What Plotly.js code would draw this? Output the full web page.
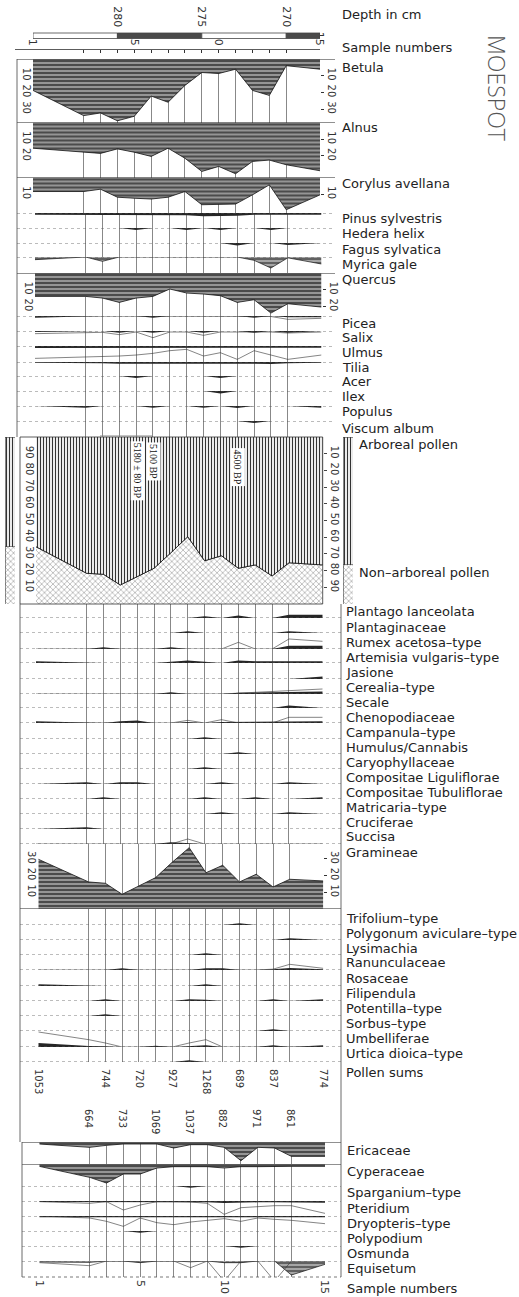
<!DOCTYPE html>
<html><head><meta charset="utf-8">
<script src="https://cdn.plot.ly/plotly-3.0.1.min.js"></script>
<style>html,body{margin:0;padding:0;background:#fff}</style>
</head><body><div id="chart" style="width:519px;height:1297px"></div>
<script>
// ---------------- DATA ----------------
const sampleNumbers = [1,2,3,4,5,6,7,8,9,10,11,12,13,14,15];
const depthsCm = [285,282,281,280,279,278,277,276,275,274,273,272,271,270,268];
const depthTicks = [280,275,270];
const labelledSamples = [1,5,10,15];
const percentTicks = [10,20,30,40,50,60,70,80,90];
const pollenSums = [1053,664,744,733,720,1069,927,1037,1268,882,689,971,837,861,774];
const datedSamples = [5,6,11];
const dateLabels = ['5180 ± 80 BP','5100 BP','4500 BP'];
const sedimentEdges = [285,280,275,270,268];
const sedimentShade = ['#ffffff','#4a4a4a','#ffffff','#4a4a4a'];

// trees & shrubs (%)
const betula   = [18.8,33.9,32.3,37.0,34.3,22.2,25.9,15.8,8.1,8.7,6.1,18.8,21.8,4.0,6.1];
const alnus    = [15.4,17.4,18.5,15.8,17.8,20.3,15.4,21.4,29.3,26.3,30.7,23.3,22.5,25.3,28.9];
const corylus  = [8.4,8.4,7.0,11.8,12.4,12.9,11.8,8.4,16.3,15.9,15.9,10.4,4.4,19.3,10.4];
const pinus    = [1.0,1.0,1.0,1.0,1.0,1.0,1.0,1.3,2.0,2.0,1.6,1.0,1.0,1.0,1.0];
const hedera   = [0,0,0,0,1.2,0,0,1.2,0,1.2,0,0,1.2,0,0];
const fagus    = [0,0,0,0,0,0,0,0,0,0,1.5,0,0,1.2,0];
const myrica   = [1.6,0,2.6,0,0,0,0,0,0,0,0,2.0,6.6,0.5,4.2];
const quercus  = [14.0,14.0,15.0,17.6,15.0,14.0,9.6,12.0,12.6,13.6,17.6,16.0,24.0,18.4,20.4];
const picea    = [1.0,0,0,0,0,1.0,0,0,0,0,0,1.0,0,0.8,0.8];
const piceaEx  = [0,0,0,0,0,0,0,0,0,0,0,0,0.3,2.0,1.4];
const salix    = [0.6,0,0,1.0,0,1.0,0,0,1.0,0,0,1.0,0,1.0,0];
const salixEx  = [1.6,1.0,0.8,2.2,0.6,4.0,0.6,0.6,2.6,0.6,0.6,0.6,0.6,1.2,0.6];
const ulmus    = [1.2,1.2,1.0,1.0,1.0,1.0,1.0,1.0,1.0,1.3,1.0,1.0,0.9,1.0,1.0];
const ulmusEx  = [7.4,6.8,6.4,6.0,5.4,4.4,2.8,2.0,6.0,4.0,8.0,2.8,5.4,8.0,5.4];
const tilia    = [0.5,0.5,0.7,1.0,1.0,1.0,1.0,1.0,0.9,0.7,0.9,1.0,1.2,0.7,0.5];
const acer     = [0,0,0,0,1.2,0,0,0,0,1.2,0,0,0,0,0];
const ilex     = [0,0,0,0,0,0,0,0,0,1.5,0,0,0,0,0];
const populus  = [0,1.0,0,0,0,1.0,0,0,1.0,0,1.2,0,0,0,1.0];
const viscum   = [0,0,0,0,0,0,0,0,0,0,0,1.2,0,0,0];

// AP / NAP (%)
const arborealPollen    = [65.7,81.6,82.2,88.6,83.6,78.6,69.3,59.7,74.1,71.1,78.6,76.6,83.2,75.3,76.6];
const nonArborealPollen = [34.3,18.4,17.8,11.4,16.4,21.4,30.7,40.3,25.9,28.9,21.4,23.4,16.8,24.7,23.4];

// herbs (%)
const plantagoL   = [0,0,0,0,0,0,0,0,1.0,0,1.5,0,0,2.0,2.0];
const plantaginac = [0,0,0,0,0,0,0,1.0,0,0,0,0,0,1.0,0];
const rumex       = [0,0,1.0,0,0,0,1.0,0,0,0,0.5,0,0,2.0,2.0];
const rumexEx     = [0,0,0,0,0,0,0,0,0,0,4.0,0,0,6.0,4.6];
const artemisia   = [1.0,0,0,0,0,0,0.8,1.5,0.8,0,1.5,1.0,1.0,1.0,1.0];
const jasione     = [0,0,0,0,0,0,0,0,0,0,0,0,0,0,1.5];
const cerealia    = [0,0,0,0,0,0,1.0,0,0,0,0.8,1.0,1.0,1.0,1.5];
const cerealiaEx  = [0,0,0,0,0,0,0,0,0,0,0.5,1.0,1.5,2.0,3.0];
const secale      = [0,0,0,0,0,0,0,0,0,0,0,0,0,1.5,0];
const cheno       = [1.0,0,0,1.0,1.5,0,0,0.6,0,0.6,0.6,0.8,0.8,1.0,1.0];
const chenoEx     = [0,0,0,0,0,0,0,1.6,0,2.0,0,0,0,3.4,3.4];
const campanula   = [0,0,0,0,0,0,0,0,1.0,0,0,0,0,0,0];
const humulus     = [0,0,0,0,0,0,0,0,0,0,1.0,0,0,0,0];
const caryo       = [0,0,0,0,0,0,0,0,1.0,0,0,0,0,0,0];
const compLig     = [0,1.0,0,1.0,1.0,0,0,0,0,1.0,0,0,0,1.0,0];
const compTub     = [0,0,1.0,0,0,0,0,0,1.0,0,0,1.0,0,0,1.0];
const matricaria  = [0,0,0,0,0,0,0,0,0,1.0,0,0,0,1.0,0];
const cruciferae  = [0,1.0,0,0,0,0,0,0,0,0,0,0,0,0,0];
const succisa     = [0,0,0,0,0,0,1.0,0.5,0,0,0,0,0,0,0];
const succisaEx   = [0,0,0,0,0,0,0,3.0,0,0,0,0,0,0,0];
const gramineae   = [29.8,16.2,15.4,8.8,13.8,18.8,28.1,36.7,21.7,26.2,16.2,20.8,13.2,17.8,16.8];
const trifolium   = [0,0,0,0,0,0,0,0,0,0,1.0,0,0,0,0];
const polygonum   = [0,0,0,0,0,0,0,0,0,0,0,0,0,1.0,0];
const lysimachia  = [0,0,0,0,0,0,0,0,1.0,0,0,0,0,0,0];
const ranunc      = [0,0,0,1.0,0,0,0,0,1.0,1.0,0,0,0.5,1.2,0.5];
const ranuncEx    = [0,0,0,0,0,0,0,0,0,0,0,0,0.5,3.4,1.0];
const rosaceae    = [1.0,0,0,0,0,0,0,0,1.0,0,0,0,0,0,0];
const filipendula = [0,0,1.0,0,0,0,0,1.0,0.8,0,0,0,1.0,0,1.0];
const potentilla  = [0,0,1.0,0,0,0,0,0,0,0,0,0,0,0,0];
const sorbus      = [0,0,0,0,0,0,0,0,0,0,0,0,1.0,0,0];
const umbellif    = [2.4,0.6,0.5,0,0,0.8,0,0.5,1.0,0,0,0,1.0,0,1.0];
const umbellifEx  = [9.0,4.4,2.4,0,0,0,0,2.4,4.4,0,0,0,0,0,0];
const urtica      = [0,0,0,0,0,0,0,1.0,0,0,0,0,0,0,0];

// mires & spores (%)
const ericaceae   = [1.2,3.2,2.0,1.2,1.2,1.2,3.6,1.6,1.6,3.2,11.2,3.2,3.6,8.6,8.6];
const cyperaceae  = [1.4,8.0,11.4,6.0,6.0,2.4,1.6,1.6,1.6,2.4,1.6,1.6,1.4,1.4,1.4];
const sparganium  = [0,0,0,0,0,0,0,1.0,0,0,0,0,0,0,0];
const pteridium   = [0.6,0.6,0.6,0.8,0.8,0.6,0.6,0.6,0.8,1.2,0.8,0.8,0.8,0.8,1.0];
const pteridiumEx = [0.4,1.4,0.4,5.4,2.4,0.4,0.4,0.6,1.4,8.0,4.0,3.4,2.8,2.8,7.4];
const dryopteris  = [0.8,0.8,0.8,1.0,1.0,0.8,0.8,0.8,0.8,0.8,0.8,0.8,0.8,0.8,0.8];
const dryopterisEx= [0,1.2,3.2,6.2,1.2,4.0,5.2,3.6,2.6,1.6,3.2,1.2,2.0,2.6,4.6];
const polypodium  = [0,0,0,0,1.0,0,0,0,0,0,0,0,0,0,0];
const osmunda     = [0,0,0,0,0,0,0,0,0,0,1.0,0,0,0,0];
const equisetum   = [0.6,0.8,0,0,1.0,0,0,0.5,0,1.0,1.0,0,0,8.4,2.0];
const equisetumEx = [1.0,2.8,0,0,0,0,0,4.0,0,12,0,0,12,0,0];

// ---------------- LAYOUT HELPERS ----------------
const W = 519, H = 1297, K = 1.67;
const px = v => v / W, py = v => 1 - v / H;
const secs = {
  A: {x0: 33,   x1: 320,   fl: 17, fr: 335, lx: 340, ax: 1},
  B: {x0: 35,   x1: 321.5, fl: 17, fr: 335, lx: 340, ax: 2},
  C: {x0: 36,   x1: 322.7, fl: 20, fr: 341, lx: 344, ax: 3},
  D: {x0: 38.3, x1: 323.3, fl: 20, fr: 341, lx: 344, ax: 4},
  E: {x0: 39.3, x1: 325,   fl: 22, fr: 341, lx: 345, ax: 5}
};
const xName = n => n === 1 ? 'xaxis' : 'xaxis' + n, xId = n => n === 1 ? 'x' : 'x' + n;
const yName = n => n === 1 ? 'yaxis' : 'yaxis' + n, yId = n => n === 1 ? 'y' : 'y' + n;
const depthRange = [depthsCm[0], depthsCm[depthsCm.length - 1]];
const depthOf = s => depthsCm[sampleNumbers.indexOf(s)];

const layout = {
  width: W, height: H, margin: {l: 0, r: 0, t: 0, b: 0},
  paper_bgcolor: '#fff', plot_bgcolor: 'rgba(0,0,0,0)', showlegend: false,
  font: {family: 'DejaVu Sans', color: '#222'}, shapes: [], annotations: [],
  barmode: 'stack', bargap: 0
};
const traces = [];

Object.values(secs).forEach(s => {
  layout[xName(s.ax)] = {domain: [px(s.x0), px(s.x1)], range: depthRange, autorange: false,
    anchor: 'free', position: 0, showgrid: true, gridcolor: '#6a6a6a', gridwidth: 0.8,
    tickmode: 'array', tickvals: depthsCm, showticklabels: false, ticks: '', zeroline: false, showline: false};
});

let yCount = 0;
function newY(cfg) { yCount++; layout[yName(yCount)] = cfg; return yId(yCount); }
const tickFont = {size: 10, color: '#333', family: 'DejaVu Sans'};

const styles = {
  big: {line: {color: '#111', width: 0.8}, fillcolor: '#999',
    fillpattern: {shape: '-', fgcolor: '#2b2b2b', bgcolor: '#959595', size: 4, solidity: 0.35}},
  gray: {line: {color: '#111', width: 0.7}, fillcolor: '#999',
    fillpattern: {shape: '-', fgcolor: '#333', bgcolor: '#a5a5a5', size: 4, solidity: 0.3}},
  small: {line: {color: '#111', width: 0}, fillcolor: '#262626'}
};

// ---------------- ROWS ----------------
const rows = [
  {label: 'Betula', data: betula, top: 59, bot: 122.5, dir: 'down', sec: 'A', ticks: [10,20,30], style: 'big', ly: 68},
  {label: 'Alnus', data: alnus, top: 122.5, bot: 177.5, dir: 'down', sec: 'A', ticks: [10,20], style: 'big', ly: 128},
  {label: 'Corylus avellana', data: corylus, top: 177.5, bot: 213, dir: 'down', sec: 'A', ticks: [10], style: 'big', ly: 183},
  {label: 'Pinus sylvestris', data: pinus, top: 213, bot: 228, dir: 'down', sec: 'B', ly: 219},
  {label: 'Hedera helix', data: hedera, top: 228, bot: 243, dir: 'down', sec: 'B', ly: 234},
  {label: 'Fagus sylvatica', data: fagus, top: 243, bot: 257, dir: 'down', sec: 'B', ly: 249},
  {label: 'Myrica gale', data: myrica, top: 257, bot: 273, dir: 'down', sec: 'B', style: 'gray', ly: 264},
  {label: 'Quercus', data: quercus, top: 273, bot: 316, dir: 'down', sec: 'B', ticks: [10,20], style: 'big', ly: 279},
  {label: 'Picea', data: picea, ex: piceaEx, top: 316, bot: 331, dir: 'down', sec: 'B', ly: 323},
  {label: 'Salix', data: salix, ex: salixEx, top: 331, bot: 346, dir: 'down', sec: 'B', ly: 337},
  {label: 'Ulmus', data: ulmus, ex: ulmusEx, top: 346, bot: 362, dir: 'down', sec: 'B', ly: 352},
  {label: 'Tilia', data: tilia, top: 362, bot: 376, dir: 'down', sec: 'B', ly: 367},
  {label: 'Acer', data: acer, top: 376, bot: 391, dir: 'down', sec: 'B', ly: 382},
  {label: 'Ilex', data: ilex, top: 391, bot: 406, dir: 'down', sec: 'B', ly: 397},
  {label: 'Populus', data: populus, top: 406, bot: 421, dir: 'down', sec: 'B', ly: 412},
  {label: 'Viscum album', data: viscum, top: 421, bot: 437, dir: 'down', sec: 'B', ly: 428},
  {label: 'Plantago lanceolata', data: plantagoL, top: 604, bot: 618, dir: 'up', sec: 'C', ly: 612},
  {label: 'Plantaginaceae', data: plantaginac, top: 618, bot: 633, dir: 'up', sec: 'C', ly: 627},
  {label: 'Rumex acetosa\u2013type', data: rumex, ex: rumexEx, top: 633, bot: 649, dir: 'up', sec: 'C', ly: 642},
  {label: 'Artemisia vulgaris\u2013type', data: artemisia, top: 649, bot: 663, dir: 'up', sec: 'C', ly: 657},
  {label: 'Jasione', data: jasione, top: 663, bot: 679, dir: 'up', sec: 'C', ly: 672},
  {label: 'Cerealia\u2013type', data: cerealia, ex: cerealiaEx, top: 679, bot: 694, dir: 'up', sec: 'C', ly: 687},
  {label: 'Secale', data: secale, top: 694, bot: 708, dir: 'up', sec: 'C', ly: 702},
  {label: 'Chenopodiaceae', data: cheno, ex: chenoEx, top: 708, bot: 723, dir: 'up', sec: 'C', ly: 717},
  {label: 'Campanula\u2013type', data: campanula, top: 723, bot: 739, dir: 'up', sec: 'C', ly: 732},
  {label: 'Humulus/Cannabis', data: humulus, top: 739, bot: 754, dir: 'up', sec: 'C', ly: 747},
  {label: 'Caryophyllaceae', data: caryo, top: 754, bot: 769, dir: 'up', sec: 'C', ly: 762},
  {label: 'Compositae Liguliflorae', data: compLig, top: 769, bot: 784, dir: 'up', sec: 'C', ly: 777},
  {label: 'Compositae Tubuliflorae', data: compTub, top: 784, bot: 799, dir: 'up', sec: 'C', ly: 792},
  {label: 'Matricaria\u2013type', data: matricaria, top: 799, bot: 814, dir: 'up', sec: 'C', ly: 807},
  {label: 'Cruciferae', data: cruciferae, top: 814, bot: 829, dir: 'up', sec: 'C', ly: 822},
  {label: 'Succisa', data: succisa, ex: succisaEx, top: 829, bot: 844, dir: 'up', sec: 'C', ly: 837},
  {label: 'Gramineae', data: gramineae, top: 844, bot: 909, dir: 'up', sec: 'D', ticks: [10,20,30], style: 'big', ly: 852},
  {label: 'Trifolium\u2013type', data: trifolium, top: 909, bot: 925, dir: 'up', sec: 'D', ly: 918},
  {label: 'Polygonum aviculare\u2013type', data: polygonum, top: 925, bot: 940, dir: 'up', sec: 'D', ly: 933},
  {label: 'Lysimachia', data: lysimachia, top: 940, bot: 955, dir: 'up', sec: 'D', ly: 948},
  {label: 'Ranunculaceae', data: ranunc, ex: ranuncEx, top: 955, bot: 970, dir: 'up', sec: 'D', ly: 963},
  {label: 'Rosaceae', data: rosaceae, top: 970, bot: 986, dir: 'up', sec: 'D', ly: 978},
  {label: 'Filipendula', data: filipendula, top: 986, bot: 1001, dir: 'up', sec: 'D', ly: 993},
  {label: 'Potentilla\u2013type', data: potentilla, top: 1001, bot: 1016, dir: 'up', sec: 'D', ly: 1008},
  {label: 'Sorbus\u2013type', data: sorbus, top: 1016, bot: 1031, dir: 'up', sec: 'D', ly: 1023},
  {label: 'Umbelliferae', data: umbellif, ex: umbellifEx, top: 1031, bot: 1047, dir: 'up', sec: 'D', ly: 1038},
  {label: 'Urtica dioica\u2013type', data: urtica, top: 1047, bot: 1062, dir: 'up', sec: 'D', ly: 1053},
  {label: 'Ericaceae', data: ericaceae, top: 1142, bot: 1164, dir: 'down', sec: 'E', style: 'big', ly: 1150},
  {label: 'Cyperaceae', data: cyperaceae, top: 1164, bot: 1186, dir: 'down', sec: 'E', style: 'big', ly: 1171},
  {label: 'Sparganium\u2013type', data: sparganium, top: 1186, bot: 1201, dir: 'down', sec: 'E', ly: 1192},
  {label: 'Pteridium', data: pteridium, ex: pteridiumEx, top: 1201, bot: 1216, dir: 'down', sec: 'E', ly: 1208},
  {label: 'Dryopteris\u2013type', data: dryopteris, ex: dryopterisEx, top: 1216, bot: 1231, dir: 'down', sec: 'E', ly: 1223},
  {label: 'Polypodium', data: polypodium, top: 1231, bot: 1246, dir: 'down', sec: 'E', ly: 1238},
  {label: 'Osmunda', data: osmunda, top: 1246, bot: 1261, dir: 'down', sec: 'E', ly: 1253},
  {label: 'Equisetum', data: equisetum, ex: equisetumEx, top: 1261, bot: 1277, dir: 'down', sec: 'E', style: 'gray', ly: 1268}
];

rows.forEach(r => {
  const s = secs[r.sec], xid = xId(s.ax);
  const vmax = (r.bot - r.top) / K;
  const rng = r.dir === 'down' ? [vmax, 0] : [0, vmax];
  const yid = newY({domain: [py(r.bot), py(r.top)], range: rng, autorange: false, anchor: 'free',
    position: px(s.x0), side: 'left', showgrid: false, zeroline: false, showline: false, ticks: '',
    showticklabels: !!r.ticks, tickmode: 'array', tickvals: r.ticks || [], tickangle: 90, tickfont: tickFont});
  const st = styles[r.style || 'small'];
  traces.push(Object.assign({x: depthsCm, y: r.data, xaxis: xid, yaxis: yid, mode: 'lines', fill: 'tozeroy', hoverinfo: 'skip'}, st));
  if (r.ex) traces.push({x: depthsCm, y: r.ex, xaxis: xid, yaxis: yid, mode: 'lines', line: {color: '#333', width: 0.6}, hoverinfo: 'skip'});
  if (r.ticks) {
    const yr = newY({overlaying: yid, range: rng, autorange: false, anchor: 'free', position: px(s.x1), side: 'right',
      ticks: 'outside', ticklen: 3, tickcolor: '#333', tickmode: 'array', tickvals: r.ticks, tickangle: 90,
      tickfont: tickFont, showgrid: false, zeroline: false, showline: false});
    traces.push({x: depthsCm, y: r.data, xaxis: xid, yaxis: yr, mode: 'lines', line: {width: 0}, opacity: 0, hoverinfo: 'skip'});
  }
  const isBig = r.style === 'big';
  layout.shapes.push({type: 'line', xref: 'paper', yref: yid, x0: px(s.fl), x1: px(s.fr), y0: 0, y1: 0,
    line: {color: isBig ? '#222' : '#555', width: isBig ? 1 : 0.8, dash: isBig ? 'solid' : 'dot'}});
  layout.annotations.push({text: r.label, xref: 'paper', yref: 'paper', x: px(s.lx), y: py(r.ly),
    xanchor: 'left', yanchor: 'middle', showarrow: false, font: {size: 13, color: '#222'}});
});

// ---------------- AP / NAP panel ----------------
const apTop = 437, apBot = 604, sC = secs.C;
const yNap = newY({domain: [py(apBot), py(apTop)], range: [0, 100], autorange: false, anchor: 'free',
  position: px(sC.x0), side: 'left', tickmode: 'array', tickvals: percentTicks, tickangle: 90, ticks: '',
  tickfont: tickFont, showgrid: false, zeroline: false, showline: false});
const yAp = newY({overlaying: yNap, range: [100, 0], autorange: false, anchor: 'free', position: px(sC.x1),
  side: 'right', tickmode: 'array', tickvals: percentTicks, tickangle: 90, ticks: 'outside', ticklen: 3,
  tickfont: tickFont, showgrid: false, zeroline: false, showline: false});
const napPattern = {shape: 'x', fgcolor: '#7a7a7a', bgcolor: '#fff', size: 4, solidity: 0.22};
const apPattern = {shape: '|', fgcolor: '#333', bgcolor: '#fff', size: 3, solidity: 0.4};
traces.push({x: depthsCm, y: nonArborealPollen, xaxis: xId(sC.ax), yaxis: yNap, mode: 'lines', fill: 'tozeroy',
  fillcolor: '#fff', fillpattern: napPattern, line: {color: '#111', width: 0.8}, hoverinfo: 'skip'});
traces.push({x: depthsCm, y: arborealPollen, xaxis: xId(sC.ax), yaxis: yAp, mode: 'lines', fill: 'tozeroy',
  fillcolor: '#fff', fillpattern: apPattern, line: {color: '#111', width: 0.8}, hoverinfo: 'skip'});
layout.shapes.push({type: 'rect', xref: 'paper', yref: 'paper', x0: px(20), x1: px(sC.x1), y0: py(apBot), y1: py(apTop),
  line: {color: '#333', width: 0.8}, fillcolor: 'rgba(0,0,0,0)'});

// legend swatches (first and last sample) at both sides
[[11, 5, 15, 0], [12, 343, 353, depthsCm.length - 1]].forEach(([n, a, b, idx]) => {
  layout[xName(n)] = {domain: [px(a), px(b)], anchor: 'free', position: 0, type: 'category',
    showgrid: false, showticklabels: false, ticks: '', zeroline: false, showline: false};
  traces.push({type: 'bar', x: ['s'], y: [nonArborealPollen[idx]], xaxis: xId(n), yaxis: yNap,
    marker: {color: '#fff', pattern: napPattern, line: {color: '#444', width: 0.6}}, hoverinfo: 'skip'});
  traces.push({type: 'bar', x: ['s'], y: [arborealPollen[idx]], xaxis: xId(n), yaxis: yNap,
    marker: {color: '#fff', pattern: apPattern, line: {color: '#444', width: 0.6}}, hoverinfo: 'skip'});
});
layout.annotations.push({text: 'Arboreal pollen', xref: 'paper', yref: 'paper', x: px(357), y: py(444),
  xanchor: 'left', yanchor: 'middle', showarrow: false, font: {size: 13}});
layout.annotations.push({text: 'Non\u2013arboreal pollen', xref: 'paper', yref: 'paper', x: px(357), y: py(573),
  xanchor: 'left', yanchor: 'middle', showarrow: false, font: {size: 13}});
const dateY = [471, 461, 467];
dateLabels.forEach((t, i) => {
  layout.annotations.push({text: t, xref: xId(sC.ax), yref: 'paper', x: depthOf(datedSamples[i]), y: py(dateY[i]),
    xanchor: 'center', yanchor: 'middle', textangle: 90, showarrow: false, bgcolor: '#fff', borderpad: 1,
    font: {family: 'Liberation Serif', size: 10, color: '#111'}});
});

// ---------------- header / footer axes ----------------
const sA = secs.A, sE = secs.E, sD = secs.D;
const anchorShape = ax => layout.shapes.push({type: 'line', xref: ax, yref: 'paper', x0: depthRange[0], x1: depthRange[0],
  y0: 0, y1: 0, line: {width: 0, color: 'rgba(0,0,0,0)'}});
layout[xName(6)] = {domain: [px(sA.x0), px(sA.x1)], range: depthRange, autorange: false, anchor: 'free',
  position: py(29), side: 'top', tickmode: 'array', tickvals: depthTicks, ticktext: depthTicks.map(String),
  tickangle: 90, ticks: '', showgrid: false, zeroline: false, showline: false, tickfont: {size: 11, color: '#333'}};
sedimentShade.forEach((c, i) => {
  layout.shapes.push({type: 'rect', xref: 'x6', yref: 'paper', x0: sedimentEdges[i], x1: sedimentEdges[i + 1],
    y0: py(38.5), y1: py(33), fillcolor: c, line: {color: '#444', width: 0.8}});
});
layout[xName(7)] = {domain: [px(sA.x0), px(sA.x1)], range: depthRange, autorange: false, anchor: 'free',
  position: py(49.5), side: 'top', tickmode: 'array', tickvals: depthsCm,
  ticktext: sampleNumbers.map(s => labelledSamples.includes(s) ? String(s) : ''),
  tickangle: 90, ticks: 'inside', ticklen: 3, tickcolor: '#333', showline: true, linecolor: '#333', linewidth: 0.8,
  showgrid: false, zeroline: false, tickfont: {size: 11, color: '#333'}};
anchorShape('x7');
layout.shapes.push({type: 'line', xref: 'paper', yref: 'paper', x0: px(15), x1: px(sA.x0), y0: py(49.5), y1: py(49.5),
  line: {color: '#333', width: 0.8}});

// pollen sums (staggered: odd / even samples)
[[8, 0, 1068], [9, 1, 1108]].forEach(([n, par, ypos]) => {
  const idx = depthsCm.map((d, i) => i).filter(i => i % 2 === par);
  layout[xName(n)] = {domain: [px(sD.x0), px(sD.x1)], range: depthRange, autorange: false, anchor: 'free',
    position: py(ypos), side: 'bottom', tickmode: 'array', tickvals: idx.map(i => depthsCm[i]),
    ticktext: idx.map(i => String(pollenSums[i])), tickangle: 90, ticks: '', showgrid: false,
    zeroline: false, showline: false, tickfont: {size: 10, color: '#333'}};
  anchorShape(xId(n));
});
// bottom sample numbers
layout[xName(10)] = {domain: [px(sE.x0), px(sE.x1)], range: depthRange, autorange: false, anchor: 'free',
  position: py(1279), side: 'bottom', tickmode: 'array', tickvals: labelledSamples.map(depthOf),
  ticktext: labelledSamples.map(String), tickangle: 90, ticks: '', showgrid: false, zeroline: false,
  showline: false, tickfont: {size: 11, color: '#333'}};
anchorShape('x10');

// ---------------- frames ----------------
const vline = (x, y0, y1) => layout.shapes.push({type: 'line', xref: 'paper', yref: 'paper',
  x0: px(x), x1: px(x), y0: py(y0), y1: py(y1), line: {color: '#444', width: 0.8}});
vline(17, 59, 437);
vline(20, 604, 1142);
vline(341, 604, 1277);
vline(22, 1142, 1277);
layout.shapes.push({type: 'line', xref: 'paper', yref: 'paper', x0: px(22), x1: px(341), y0: py(1277), y1: py(1277),
  line: {color: '#555', width: 0.8, dash: 'dot'}});
layout.shapes.push({type: 'line', xref: 'paper', yref: 'paper', x0: px(100), x1: px(152), y0: py(436), y1: py(436),
  line: {color: '#888', width: 1}});

// ---------------- texts ----------------
[['Depth in cm', 340, 15], ['Sample numbers', 340, 47], ['Pollen sums', 344, 1072], ['Sample numbers', 345, 1288]]
  .forEach(([t, x, y]) => layout.annotations.push({text: t, xref: 'paper', yref: 'paper', x: px(x), y: py(y),
    xanchor: 'left', yanchor: 'middle', showarrow: false, font: {size: 13, color: '#222'}}));
layout.annotations.push({text: 'MOESPOT', xref: 'paper', yref: 'paper', x: px(497), y: py(88), textangle: 90,
  xanchor: 'center', yanchor: 'middle', showarrow: false, font: {size: 23, color: '#555', family: 'Open Sans', weight: 300}});

Plotly.newPlot('chart', traces, layout, {staticPlot: true, displayModeBar: false});
</script>
</body></html>
